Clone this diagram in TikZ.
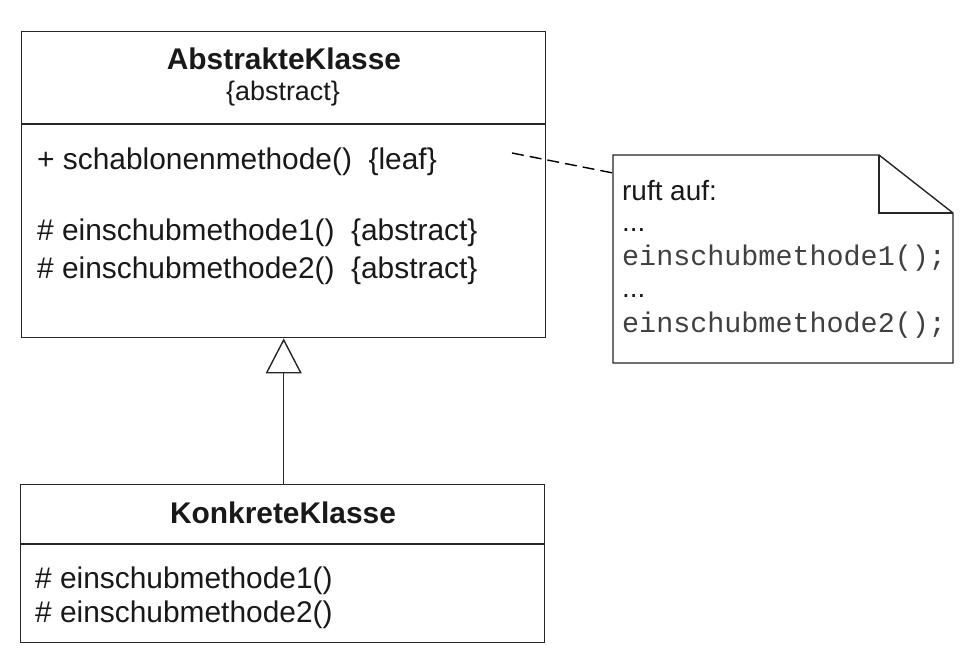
\documentclass[tikz,border=0pt]{standalone}
\usepackage{fontspec}
\setmainfont{Liberation Sans}
\setmonofont{Liberation Mono}
\usetikzlibrary{arrows.meta}
\tikzset{
  box/.style={draw=black!85, line width=1.4bp, rectangle, inner sep=0pt, anchor=north west},
  ln/.style={draw=black!85, line width=1.4bp},
  txt/.style={anchor=base west, inner sep=0pt, text=black!90, font=\fontsize{30}{36}\selectfont},
  ttl/.style={anchor=base, inner sep=0pt, text=black!90, font=\fontsize{30}{36}\selectfont\bfseries},
  sub/.style={anchor=base, inner sep=0pt, text=black!90, font=\fontsize{27}{32}\selectfont},
  code/.style={anchor=base west, inner sep=0pt, text=black!75, font=\fontsize{28.5}{34}\selectfont\ttfamily},
  ntxt/.style={anchor=base west, inner sep=0pt, text=black!90, font=\fontsize{28}{34}\selectfont}
}
\begin{document}
\begin{tikzpicture}[x=1bp,y=-1bp]
\useasboundingbox[fill=white] (0,0) rectangle (970,654);
% abstract class
\node[box, minimum width=524bp, minimum height=306bp] (abs) at (21,31) {};
\coordinate (absl) at (21,124);
\coordinate (absr) at (545,124);
\draw[ln] (absl) -- (absr);
\node[ttl] (absname) at (284,70) {AbstrakteKlasse};
\node[sub] (absst) at (283,101) {\{abstract\}};
\node[txt] (m1) at (37,170) {+ schablonenmethode()\ \ \{leaf\}};
\node[txt] (m2) at (37,240) {\# einschubmethode1()\ \ \{abstract\}};
\node[txt] (m3) at (37,278) {\# einschubmethode2()\ \ \{abstract\}};
% concrete class
\node[box, minimum width=524bp, minimum height=158bp] (konk) at (20,484) {};
\coordinate (konkl) at (20,544);
\coordinate (konkr) at (544,544);
\draw[ln] (konkl) -- (konkr);
\node[ttl] (konkname) at (283,523) {KonkreteKlasse};
\node[txt] (k1) at (35,588) {\# einschubmethode1()};
\node[txt] (k2) at (35,622) {\# einschubmethode2()};
% generalization
\draw[ln, -{Triangle[open, length=35bp, width=36bp, line width=1.4bp]}] (konk.north -| abs.south) -- (abs.south);
% note
\coordinate (n1) at (613,155);
\coordinate (n2) at (879,155);
\coordinate (n3) at (953,213);
\coordinate (n4) at (953,363);
\coordinate (n5) at (613,363);
\coordinate (nf) at (879,213);
\draw[ln, line join=miter] (n1) -- (n2) -- (n3) -- (n4) -- (n5) -- cycle;
\draw[ln] (n2) -- (nf) -- (n3);
\node[ntxt] (t1) at (622,200) {ruft auf:};
\node[ntxt] (t2) at (622,231) {...};
\node[code] (t3) at (622,265) {einschubmethode1();};
\node[ntxt] (t4) at (622,297) {...};
\node[code] (t5) at (622,332) {einschubmethode2();};
% anchor link
\coordinate (a0) at (512,153);
\coordinate (a1) at (613,173);
\draw[ln, draw=black, dash pattern=on 12bp off 6bp] (a0) -- (a1);
\end{tikzpicture}
\end{document}
